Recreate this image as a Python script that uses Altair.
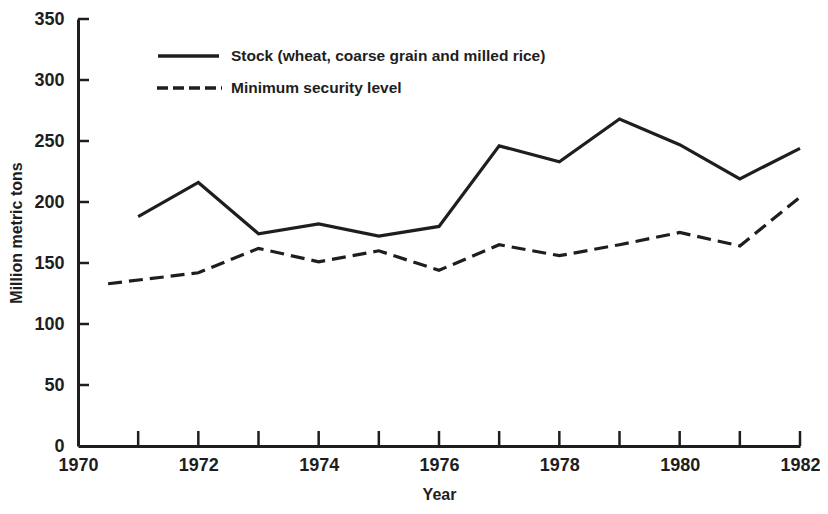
import altair as alt
import pandas as pd

# ---- data ----
stock_years = [1971, 1972, 1973, 1974, 1975, 1976, 1977, 1978, 1979, 1980, 1981, 1982]
stock_vals = [188, 216, 174, 182, 172, 180, 246, 233, 268, 247, 219, 244]

min_years = [1970.5, 1972, 1973, 1974, 1975, 1976, 1977, 1978, 1979, 1980, 1981, 1982]
min_vals = [133, 142, 162, 151, 160, 144, 165, 156, 165, 175, 164, 204]

legend_labels = ["Stock (wheat, coarse grain and milled rice)", "Minimum security level"]
x_tick_labels = [1970, 1972, 1974, 1976, 1978, 1980, 1982]
x_tick_marks = [1971, 1972, 1973, 1974, 1975, 1976, 1977, 1978, 1979, 1980, 1981, 1982]
y_tick_labels = [0, 50, 100, 150, 200, 250, 300, 350]

W, H = 722, 427
FONT = "Liberation Sans"
INK = "#1e1e1e"

stock_df = pd.DataFrame({"year": stock_years, "value": stock_vals})
min_df = pd.DataFrame({"year": min_years, "value": min_vals})

xscale = alt.Scale(domain=[1970, 1982], nice=False, zero=False)
yscale = alt.Scale(domain=[0, 350], nice=False)

xaxis = alt.Axis(values=x_tick_labels, format="d", tickSize=0, grid=False,
                 domainColor=INK, domainWidth=3, labelFont=FONT, labelFontSize=18,
                 labelFontWeight="bold", labelColor=INK, labelPadding=10,
                 title="Year", titleFont=FONT, titleFontSize=16, titleFontWeight="bold",
                 titleColor=INK, titlePadding=12, labelFlush=False)
yaxis = alt.Axis(values=y_tick_labels, tickSize=0, grid=False,
                 domainColor=INK, domainWidth=3, labelFont=FONT, labelFontSize=18,
                 labelFontWeight="bold", labelColor=INK, labelPadding=14,
                 title="Million metric tons", titleFont=FONT, titleFontSize=16,
                 titleFontWeight="bold", titleColor=INK, titlePadding=9)

stock = alt.Chart(stock_df).mark_line(color=INK, strokeWidth=3.2).encode(
    x=alt.X("year:Q", scale=xscale, axis=xaxis),
    y=alt.Y("value:Q", scale=yscale, axis=yaxis),
)
minimum = alt.Chart(min_df).mark_line(color=INK, strokeWidth=3.2, strokeDash=[14, 7]).encode(
    x=alt.X("year:Q", scale=xscale),
    y=alt.Y("value:Q", scale=yscale),
)

# inward ticks
xt = alt.Chart(pd.DataFrame({"year": x_tick_marks})).mark_rule(color=INK, strokeWidth=2.5).encode(
    x=alt.X("year:Q", scale=xscale), y=alt.value(H), y2=alt.value(H - 15))
yt = alt.Chart(pd.DataFrame({"v": y_tick_labels[1:]})).mark_rule(color=INK, strokeWidth=2.5).encode(
    y=alt.Y("v:Q", scale=yscale), x=alt.value(0), x2=alt.value(11))

# legend drawn inside the plot
leg1 = pd.DataFrame({"label": [legend_labels[0]]})
leg2 = pd.DataFrame({"label": [legend_labels[1]]})
l1_line = alt.Chart(leg1).mark_rule(color=INK, strokeWidth=3.5).encode(
    x=alt.value(80), x2=alt.value(141), y=alt.value(37))
l1_text = alt.Chart(leg1).mark_text(align="left", baseline="middle", font=FONT, fontSize=15.5,
                                    fontWeight="bold", color=INK).encode(
    x=alt.value(153), y=alt.value(37), text="label:N")
l2_line = alt.Chart(leg2).mark_rule(color=INK, strokeWidth=3.5, strokeDash=[11, 5]).encode(
    x=alt.value(79), x2=alt.value(144), y=alt.value(69))
l2_text = alt.Chart(leg2).mark_text(align="left", baseline="middle", font=FONT, fontSize=15.5,
                                    fontWeight="bold", color=INK).encode(
    x=alt.value(153), y=alt.value(69), text="label:N")

chart = alt.layer(stock, minimum, xt, yt, l1_line, l1_text, l2_line, l2_text).properties(
    width=W, height=H,
    autosize=alt.AutoSizeParams(type="none"),
    padding={"left": 70, "top": 11, "right": 20, "bottom": 60},
    background="white",
).configure_view(stroke=None)

chart.save("out.html", embed_options={"renderer": "svg", "actions": False})
